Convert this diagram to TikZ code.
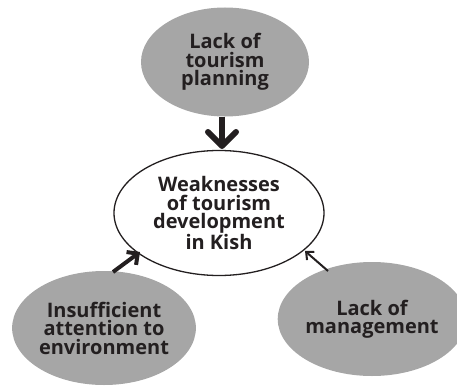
\documentclass[tikz,border=0pt]{standalone}
\usepackage{fontspec}
\setmainfont{Open Sans}
\usetikzlibrary{shapes.geometric,arrows.meta}
\definecolor{bubblegray}{HTML}{A6A6A6}
\definecolor{inkdark}{HTML}{231F20}
\tikzset{
  cause/.style={ellipse, fill=bubblegray, draw=none, minimum width=#1, align=center,
    font=\fontsize{20}{18.5}\selectfont\bfseries, text=inkdark, inner sep=0pt},
  effect/.style={ellipse, fill=white, draw=inkdark, line width=1.3pt, align=center,
    font=\fontsize{20}{18.5}\selectfont\bfseries, text=inkdark, inner sep=0pt},
}
\begin{document}
\begin{tikzpicture}[x=1pt,y=-1pt]
\useasboundingbox (0,0) rectangle (457,385);
\node[cause=168pt, minimum height=109pt] (plan) at (225,62) {Lack of\\tourism\\planning};
\node[effect, minimum width=210pt, minimum height=125pt] (weak) at (219,213) {Weaknesses\\of tourism\\development\\in Kish};
\node[cause=178pt, minimum height=114pt] (env) at (104,328) {Insufficient\\attention to\\environment};
\node[cause=170pt, minimum height=114pt] (mgmt) at (372,319) {Lack of\\management};
\coordinate (tipA) at (222,149);
\coordinate (tipB) at (140,252);
\coordinate (tipC) at (305,251);
\coordinate (startB) at (113,272);
\coordinate (startC) at (328,271);
\draw[draw=inkdark, line width=6pt, -{Straight Barb[length=14pt, width=28pt, line width=6pt, round]}] (plan.south -| tipA) -- (tipA);
\draw[draw=inkdark, line width=4pt, -{Straight Barb[length=8pt, width=16pt, line width=4pt]}] (startB) -- (tipB);
\draw[draw=inkdark, line width=2pt, -{Straight Barb[length=6pt, width=11pt, line width=2pt]}] (startC) -- (tipC);
\end{tikzpicture}
\end{document}
